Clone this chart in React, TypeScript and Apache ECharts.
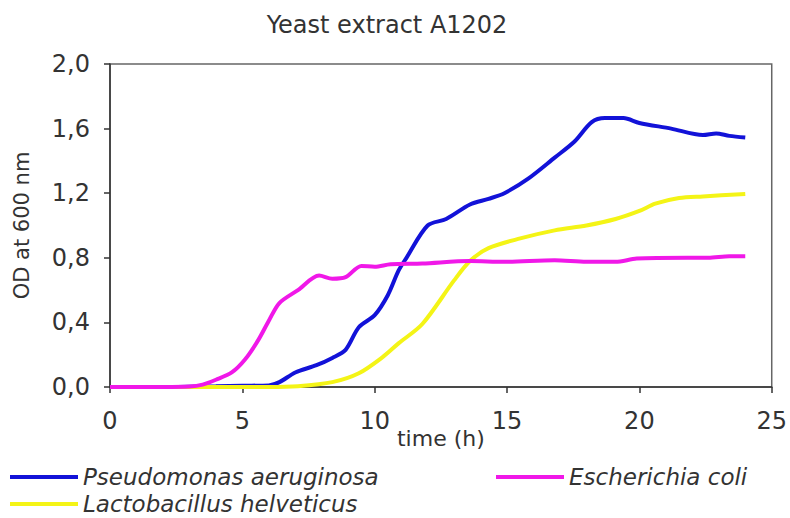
import React, { useEffect, useRef } from "react";
import * as echarts from "echarts";

const TITLE = "Yeast extract A1202";
const X_NAME = "time (h)";
const Y_NAME = "OD at 600 nm";

const SERIES_NAMES = ["Pseudomonas aeruginosa", "Escherichia coli", "Lactobacillus helveticus"];
const SERIES_COLORS = ["#1212d8", "#f018e8", "#f4f416"];

const pseudoT = [0, 2, 4, 5, 6, 6.4, 7.0, 7.8, 8.4, 8.9, 9.4, 10.0, 10.5, 10.9, 11.2, 12.0, 12.7, 13.6, 14.3, 14.9, 15.8, 16.8, 17.55, 18.2, 18.7, 19.4, 20.0, 21.2, 22.4, 22.9, 23.4, 24.0];
const pseudoV = [0, 0, 0.005, 0.008, 0.01, 0.03, 0.09, 0.135, 0.18, 0.23, 0.37, 0.445, 0.57, 0.72, 0.8, 1.0, 1.04, 1.13, 1.165, 1.2, 1.29, 1.42, 1.52, 1.64, 1.665, 1.665, 1.635, 1.6, 1.56, 1.57, 1.555, 1.545];

const ecoliT = [0, 1, 2, 3, 3.5, 4, 4.6, 5.1, 5.6, 6.0, 6.4, 7.1, 7.9, 8.4, 8.9, 9.5, 10.0, 10.6, 11.8, 13.6, 14.9, 16.8, 18.0, 19.1, 19.9, 21.8, 22.6, 23.4, 24.0];
const ecoliV = [0, 0, 0, 0.003, 0.015, 0.045, 0.09, 0.17, 0.29, 0.41, 0.52, 0.6, 0.69, 0.67, 0.68, 0.75, 0.745, 0.76, 0.765, 0.78, 0.775, 0.785, 0.775, 0.775, 0.795, 0.8, 0.8, 0.81, 0.81];

const lactoT = [0, 2, 4, 6, 7.1, 8.4, 9.4, 10.3, 10.9, 11.8, 13.0, 13.6, 14.3, 15.5, 16.8, 18.0, 19.1, 20.0, 20.6, 21.5, 22.4, 24.0];
const lactoV = [0, 0, 0, 0, 0.005, 0.03, 0.085, 0.185, 0.27, 0.39, 0.66, 0.78, 0.86, 0.92, 0.97, 1.0, 1.04, 1.09, 1.135, 1.17, 1.18, 1.195];

const X_MIN = 0, X_MAX = 25, X_STEP = 5;
const Y_MIN = 0, Y_MAX = 2, Y_STEP = 0.4;

const FONT = "DejaVu Sans";
const TEXT = "#333333";

function pairs(t: number[], v: number[]) {
  return t.map((x, i) => [x, v[i]]);
}

export default function App() {
  const ref = useRef<HTMLDivElement>(null);
  useEffect(() => {
    if (!ref.current) return;
    const chart = echarts.init(ref.current, null, { renderer: "svg" });
    const data = [pairs(pseudoT, pseudoV), pairs(ecoliT, ecoliV), pairs(lactoT, lactoV)];
    const legendPos = [
      { left: 10, top: 464 },
      { left: 496, top: 464 },
      { left: 10, top: 491 },
    ];
    chart.setOption({
      animation: false,
      backgroundColor: "#ffffff",
      title: {
        text: TITLE,
        left: 382,
        textAlign: "center",
        top: 8,
        textStyle: { fontFamily: FONT, fontSize: 24, fontWeight: "normal", color: TEXT },
      },
      grid: {
        left: 110,
        right: 15,
        top: 64,
        bottom: 131,
        show: true,
        borderColor: "#666666",
        borderWidth: 1.5,
        backgroundColor: "transparent",
      },
      legend: SERIES_NAMES.map((n, i) => ({
        data: [n],
        left: legendPos[i].left,
        top: legendPos[i].top,
        padding: 0,
        icon: "rect",
        itemWidth: 68,
        itemHeight: 4,
        selectedMode: false,
        textStyle: { fontFamily: FONT, fontSize: 23, lineHeight: 26, fontStyle: "italic", color: TEXT },
      })),
      xAxis: {
        type: "value",
        min: X_MIN,
        max: X_MAX,
        interval: X_STEP,
        name: X_NAME,
        nameLocation: "middle",
        nameGap: 40,
        nameMoveOverlap: false,
        nameTextStyle: { fontFamily: FONT, fontSize: 22, color: TEXT },
        axisLine: { show: true, lineStyle: { color: "#333333", width: 1.5 } },
        axisTick: { show: true, inside: false, length: 6, lineStyle: { color: "#333333", width: 1.5 } },
        axisLabel: { margin: 22, fontFamily: FONT, fontSize: 24, color: TEXT },
        splitLine: { show: false },
      },
      yAxis: {
        type: "value",
        min: Y_MIN,
        max: Y_MAX,
        interval: Y_STEP,
        name: Y_NAME,
        nameLocation: "middle",
        nameGap: 78,
        nameMoveOverlap: false,
        nameRotate: 90,
        nameTextStyle: { fontFamily: FONT, fontSize: 21, color: TEXT },
        axisLine: { show: true, lineStyle: { color: "#333333", width: 1.5 } },
        axisTick: { show: true, inside: false, length: 6, lineStyle: { color: "#333333", width: 1.5 } },
        axisLabel: {
          margin: 20,
          fontFamily: FONT,
          fontSize: 24,
          color: TEXT,
          formatter: (v: number) => v.toFixed(1).replace(".", ","),
        },
        splitLine: { show: false },
      },
      series: [0, 2, 1].map((i) => ({
        name: SERIES_NAMES[i],
        type: "line",
        data: data[i],
        showSymbol: false,
        symbol: "none",
        smooth: 0.3,
        color: SERIES_COLORS[i],
        lineStyle: { color: SERIES_COLORS[i], width: 4 },
        itemStyle: { color: SERIES_COLORS[i] },
      })),
    });
    return () => chart.dispose();
  }, []);
  return (
    <div
      ref={ref}
      style={{ position: "fixed", left: 0, top: 0, width: 790, height: 518, background: "#fff" }}
    />
  );
}
